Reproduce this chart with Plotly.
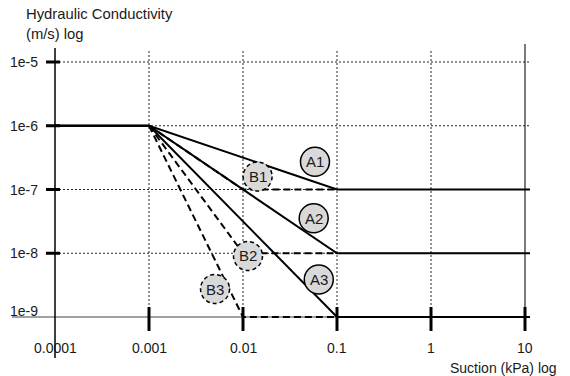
import numpy as np
import plotly.graph_objects as go

# ---- data ----
suction_A = [0.0001, 0.001, 0.1, 11.3]
k_A1 = [1e-6, 1e-6, 1e-7, 1e-7]
k_A2 = [1e-6, 1e-6, 1e-8, 1e-8]
k_A3 = [1e-6, 1e-6, 1e-9, 1e-9]

suction_B = [0.001, 0.01, 0.1]
k_B1 = [1e-6, 1e-7, 1e-7]
k_B2 = [1e-6, 1e-8, 1e-8]
k_B3 = [1e-6, 1e-9, 1e-9]

label_names = ["A1", "B1", "A2", "B2", "A3", "B3"]
label_x = [0.0583, 0.0143, 0.0565, 0.0113, 0.0640, 0.00504]
label_y = [2.73e-7, 1.60e-7, 3.53e-8, 9.06e-9, 3.87e-9, 2.75e-9]

x_ticks = [0.0001, 0.001, 0.01, 0.1, 1, 10]
x_tick_text = ["0.0001", "0.001", "0.01", "0.1", "1", "10"]
y_ticks = [1e-5, 1e-6, 1e-7, 1e-8, 1e-9]
y_tick_text = ["1e-5", "1e-6", "1e-7", "1e-8", "1e-9"]

FONT = "Liberation Sans, Arial, sans-serif"
FS = 14
TXT = "#1a1a1a"
B_DASH = "7px,4px"

# axis geometry (px per decade) for sizing circles in pixels
X_RANGE = [-4.4574, 1.0532]
Y_RANGE = [-9.643, -4.702]
PLOT_W = 570 - 12 - 40
PLOT_H = 376 - 43 - 18
PX_X = PLOT_W / (X_RANGE[1] - X_RANGE[0])
PX_Y = PLOT_H / (Y_RANGE[1] - Y_RANGE[0])
R = 14.5

fig = go.Figure()
for k in (k_A1, k_A2, k_A3):
    fig.add_trace(go.Scatter(x=suction_A, y=k, mode="lines",
                             line=dict(color="black", width=2), hoverinfo="skip"))
for k in (k_B1, k_B2, k_B3):
    fig.add_trace(go.Scatter(x=suction_B, y=k, mode="lines",
                             line=dict(color="black", width=2, dash=B_DASH), hoverinfo="skip"))

shapes = []
# horizontal dotted grid lines
for yv in y_ticks[:-1]:
    shapes.append(dict(type="line", xref="x", yref="y", x0=x_ticks[0], x1=11.3, y0=yv, y1=yv,
                       line=dict(color="#222", width=1, dash="2px,2px"), layer="below"))
# vertical grid lines
top_grid = 10 ** (Y_RANGE[1] - (49 - 43) / PX_Y)
top_ten = 10 ** (Y_RANGE[1] - (44 - 43) / PX_Y)
for xv in x_ticks[1:-1]:
    shapes.append(dict(type="line", xref="x", yref="y",
                       x0=xv, x1=xv, y0=y_ticks[-1], y1=top_grid,
                       line=dict(color="#222", width=1, dash="2px,2px"), layer="below"))
shapes.append(dict(type="line", xref="x", yref="y",
                   x0=x_ticks[-1], x1=x_ticks[-1], y0=y_ticks[-1], y1=top_ten,
                   line=dict(color="#222", width=1.2), layer="below"))
# axes
shapes.append(dict(type="line", xref="paper", yref="y", x0=0, x1=1, y0=y_ticks[-1], y1=y_ticks[-1],
                   line=dict(color="#444", width=1.2), layer="below"))
shapes.append(dict(type="line", xref="x", yref="paper", x0=x_ticks[0], x1=x_ticks[0], y0=0, y1=0.984,
                   line=dict(color="black", width=1.5), layer="below"))
# y ticks
for yv in y_ticks[:-1]:
    shapes.append(dict(type="line", xref="x", yref="y",
                       x0=x_ticks[0] * 10 ** (-9 / PX_X), x1=x_ticks[0] * 10 ** (5 / PX_X),
                       y0=yv, y1=yv, line=dict(color="black", width=3)))
# x ticks
for xv in x_ticks[1:]:
    shapes.append(dict(type="line", xref="x", yref="y",
                       x0=xv, x1=xv, y0=y_ticks[-1] * 10 ** (-14 / PX_Y),
                       y1=y_ticks[-1] * 10 ** (10 / PX_Y), line=dict(color="black", width=3)))
# label circles
for name, lx, ly in zip(label_names, label_x, label_y):
    shapes.append(dict(type="circle", xref="x", yref="y",
                       x0=lx * 10 ** (-R / PX_X), x1=lx * 10 ** (R / PX_X),
                       y0=ly * 10 ** (-R / PX_Y), y1=ly * 10 ** (R / PX_Y),
                       fillcolor="#d9d9d9",
                       line=dict(color="black", width=1.5,
                                 dash="solid" if name.startswith("A") else "4px,3px"),
                       layer="above"))

ann = []
for name, lx, ly in zip(label_names, label_x, label_y):
    ann.append(dict(x=np.log10(lx), y=np.log10(ly), xref="x", yref="y", text=name,
                    showarrow=False, xanchor="center", yanchor="middle",
                    font=dict(family=FONT, size=15, color=TXT)))
for yv, t in zip(y_ticks, y_tick_text):
    ann.append(dict(x=np.log10(x_ticks[0]), y=np.log10(yv), xref="x", yref="y", text=t,
                    showarrow=False, xanchor="right", yanchor="middle", xshift=-15,
                    yshift=6 if yv == y_ticks[-1] else 0,
                    font=dict(family=FONT, size=FS, color=TXT)))
for xv, t in zip(x_ticks, x_tick_text):
    ann.append(dict(x=np.log10(xv), y=np.log10(y_ticks[-1]), xref="x", yref="y", text=t,
                    showarrow=False, xanchor="center", yanchor="middle", yshift=-31,
                    font=dict(family=FONT, size=FS, color=TXT)))
ann.append(dict(x=1, y=0, xref="paper", yref="paper", text="Suction (kPa) log",
                showarrow=False, xanchor="right", yanchor="middle", xshift=29, yshift=-10,
                font=dict(family=FONT, size=FS, color=TXT)))
ann.append(dict(x=0, y=1, xref="paper", yref="paper", text="Hydraulic Conductivity",
                showarrow=False, xanchor="left", yanchor="middle", xshift=12, yshift=29,
                font=dict(family=FONT, size=14.8, color=TXT)))
ann.append(dict(x=0, y=1, xref="paper", yref="paper", text="(m/s) log",
                showarrow=False, xanchor="left", yanchor="middle", xshift=12, yshift=9,
                font=dict(family=FONT, size=14.8, color=TXT)))

fig.update_layout(
    width=570, height=376,
    margin=dict(l=12, r=40, t=43, b=18),
    paper_bgcolor="white", plot_bgcolor="white",
    showlegend=False,
    xaxis=dict(type="log", range=X_RANGE, visible=False),
    yaxis=dict(type="log", range=Y_RANGE, visible=False),
    shapes=shapes, annotations=ann,
)
fig.write_html("out.html")
